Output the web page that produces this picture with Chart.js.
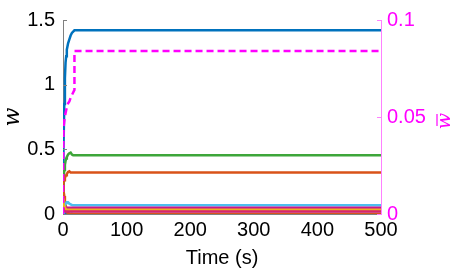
<!DOCTYPE html>
<html>
<head>
<meta charset="utf-8">
<script src="https://cdn.jsdelivr.net/npm/chart.js@4.4.1/dist/chart.umd.min.js"></script>
<style>
  html, body { margin: 0; padding: 0; background: #fff; }
  #wrap { width: 456px; height: 276px; }
</style>
</head>
<body>
<div id="wrap"><canvas id="myChart"></canvas></div>
<script>
// time samples (s), dense at start where the transients are
var t = [0, 0.5, 1, 2, 3, 4, 5, 6, 8, 10, 12, 14, 16, 18, 20, 25, 500];

var wBlue    = [0, 0.25, 0.5, 0.85, 1.05, 1.17, 1.22, 1.27, 1.32, 1.35, 1.38, 1.40, 1.41, 1.42, 1.42, 1.42, 1.42];
var wGreen   = [0.15, 0.22, 0.28, 0.34, 0.38, 0.41, 0.43, 0.44, 0.46, 0.47, 0.475, 0.46, 0.455, 0.455, 0.455, 0.455, 0.455];
var wOrange  = [0.18, 0.22, 0.24, 0.26, 0.28, 0.29, 0.30, 0.31, 0.325, 0.33, 0.32, 0.32, 0.32, 0.32, 0.32, 0.32, 0.32];
var wOrange2 = [0.22, 0.2, 0.18, 0.14, 0.1, 0.07, 0.05, 0.03, 0.01, 0, 0, 0, 0, 0, 0, 0, 0];
var wCyan    = [0, 0.02, 0.04, 0.06, 0.07, 0.08, 0.085, 0.09, 0.09, 0.08, 0.075, 0.07, 0.068, 0.067, 0.067, 0.067, 0.067];
var wPurple  = [0.03, 0.035, 0.04, 0.045, 0.05, 0.05, 0.05, 0.049, 0.048, 0.048, 0.048, 0.048, 0.048, 0.048, 0.048, 0.048, 0.048];
var wYellow  = [0.12, 0.1, 0.08, 0.06, 0.05, 0.04, 0.036, 0.034, 0.033, 0.033, 0.033, 0.033, 0.033, 0.033, 0.033, 0.033, 0.033];
var wCrimson = [0.05, 0.04, 0.03, 0.025, 0.022, 0.02, 0.019, 0.019, 0.019, 0.019, 0.019, 0.019, 0.019, 0.019, 0.019, 0.019, 0.019];
var wBlue2   = [0.01, 0.008, 0.006, 0.005, 0.004, 0.004, 0.003, 0.003, 0.002, 0.002, 0.001, 0.001, 0, 0, 0, 0, 0];

// mean weight on the right axis (dashed magenta)
var tBar = [0, 0.3, 1, 2, 4, 6, 8, 10, 12, 15, 18, 18, 500];
var wBar = [0, 0.03, 0.045, 0.048, 0.052, 0.055, 0.057, 0.058, 0.06, 0.062, 0.064, 0.084, 0.084];

var xTicks = [0, 100, 200, 300, 400, 500];
var yTicks = [0, 0.5, 1, 1.5];
var y2Ticks = [0, 0.05, 0.1];

function pts(xs, ys) {
  return xs.map(function (x, i) { return { x: x, y: ys[i] }; });
}
function line(data, color) {
  return { data: pts(t, data), borderColor: color, borderWidth: 2.5, pointRadius: 0, tension: 0, yAxisID: 'y', fill: false };
}
function plain(v) { return String(+v.toFixed(3)); }

var magenta = '#FF00FF';
var font = { family: 'Liberation Sans, Arial, sans-serif', size: 20 };
var noGrid = { display: false, drawTicks: false };

// small inward tick marks + axis titles
var decor = {
  id: 'decor',
  afterDraw: function (chart) {
    var ctx = chart.ctx, a = chart.chartArea;
    var y = chart.scales.y, y2 = chart.scales.y2;
    ctx.save();
    ctx.lineWidth = 1;
    ctx.strokeStyle = '#808080';
    yTicks.forEach(function (v) {
      var p = Math.round(y.getPixelForValue(v)) + 0.5;
      ctx.beginPath(); ctx.moveTo(a.left, p); ctx.lineTo(a.left + 4, p); ctx.stroke();
    });
    ctx.strokeStyle = '#FF80FF';
    y2Ticks.forEach(function (v) {
      var p = Math.round(y2.getPixelForValue(v)) + 0.5;
      ctx.beginPath(); ctx.moveTo(a.right, p); ctx.lineTo(a.right - 4, p); ctx.stroke();
    });

    ctx.fillStyle = '#000';
    ctx.textAlign = 'center';
    ctx.textBaseline = 'middle';
    ctx.font = '20px Liberation Sans, Arial, sans-serif';
    ctx.fillText('Time (s)', (a.left + a.right) / 2, 258);

    ctx.font = 'italic 22px DejaVu Serif, Liberation Serif, serif';
    ctx.translate(13, (a.top + a.bottom) / 2);
    ctx.rotate(-Math.PI / 2);
    ctx.fillText('w', 0, 0);
    ctx.restore();

    ctx.save();
    ctx.fillStyle = magenta;
    ctx.strokeStyle = magenta;
    ctx.textAlign = 'center';
    ctx.textBaseline = 'middle';
    ctx.font = 'italic 19px DejaVu Serif, Liberation Serif, serif';
    ctx.translate(444, (a.top + a.bottom) / 2 + 4);
    ctx.rotate(-Math.PI / 2);
    ctx.fillText('w', 0, 1);
    ctx.lineWidth = 1.2;
    ctx.beginPath(); ctx.moveTo(-5, -7); ctx.lineTo(7, -7); ctx.stroke();
    ctx.restore();
  }
};

new Chart(document.getElementById('myChart'), {
  type: 'line',
  data: {
    datasets: [
      { data: pts(tBar, wBar), borderColor: magenta, borderWidth: 2.5, borderDash: [7, 4], pointRadius: 0, tension: 0, yAxisID: 'y2', fill: false },
      line(wCrimson, '#D6246E'),
      line(wYellow, '#EDB120'),
      line(wPurple, '#C8178C'),
      line(wCyan, '#4DBEEE'),
      line(wOrange2, '#D95319'),
      line(wOrange, '#D95319'),
      line(wGreen, '#3DA63A'),
      line(wBlue2, '#0072BD'),
      line(wBlue, '#0072BD')
    ]
  },
  options: {
    responsive: true,
    maintainAspectRatio: false,
    animation: false,
    layout: { padding: { top: 12, left: 0, right: 0, bottom: 0 } },
    plugins: { legend: { display: false }, tooltip: { enabled: false } },
    scales: {
      x: {
        type: 'linear',
        min: 0,
        max: 500,
        afterBuildTicks: function (s) { s.ticks = xTicks.map(function (v) { return { value: v }; }); },
        afterFit: function (s) { s.height = 62; },
        grid: noGrid,
        border: { display: true, color: '#808080' },
        ticks: { color: '#000', font: font, padding: 4, maxRotation: 0, callback: plain }
      },
      y: {
        position: 'left',
        min: 0,
        max: 1.5,
        afterBuildTicks: function (s) { s.ticks = yTicks.map(function (v) { return { value: v }; }); },
        afterFit: function (s) { s.width = 63; },
        grid: noGrid,
        border: { display: true, color: '#808080' },
        ticks: { color: '#000', font: font, padding: 8, callback: plain }
      },
      y2: {
        position: 'right',
        min: 0,
        max: 0.1,
        afterBuildTicks: function (s) { s.ticks = y2Ticks.map(function (v) { return { value: v }; }); },
        afterFit: function (s) { s.width = 75; },
        grid: noGrid,
        border: { display: true, color: '#FF80FF' },
        ticks: { color: magenta, font: font, padding: 6, callback: plain }
      }
    }
  },
  plugins: [decor]
});
</script>
</body>
</html>
